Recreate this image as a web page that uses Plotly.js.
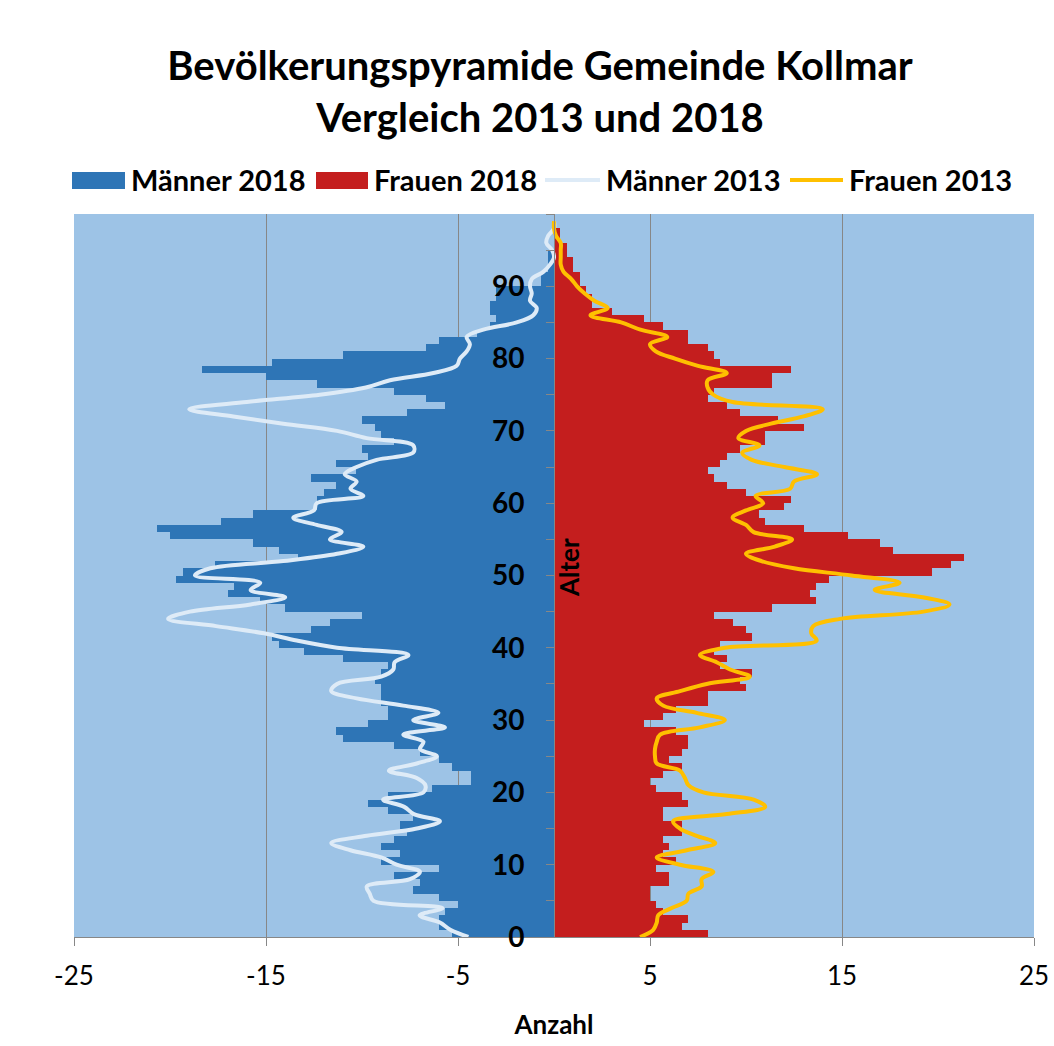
<!DOCTYPE html>
<html>
<head>
<meta charset="utf-8">
<script src="https://cdn.plot.ly/plotly-3.0.1.min.js"></script>
<style>html,body{margin:0;padding:0;background:#fff;}#chart{width:1054px;height:1046px;}</style>
</head>
<body>
<div id="chart"></div>
<script>
// Ages 0..99
const ages = Array.from({length: 100}, (_, i) => i);

const maenner2018 = [
 -5.33,-6.0,-6.0,-5.67,-5.0,-6.0,-7.33,-7.0,-8.33,-6.0,
 -9.0,-8.0,-9.0,-8.33,-7.67,-8.0,-7.33,-8.67,-9.67,-8.67,
 -6.33,-4.33,-4.33,-5.33,-6.0,-7.0,-8.33,-11.0,-11.33,-9.67,
 -8.67,-8.67,-9.0,-9.0,-9.0,-9.33,-9.0,-8.67,-11.0,-13.0,
 -14.33,-14.67,-12.67,-11.67,-10.0,-14.0,-15.33,-17.0,-16.67,-19.67,
 -19.33,-17.67,-13.33,-14.33,-15.67,-20.0,-20.67,-17.33,-15.67,-12.33,
 -12.33,-12.0,-11.33,-12.67,-10.33,-11.33,-9.67,-10.0,-8.33,-9.0,
 -9.33,-10.0,-7.67,-5.67,-6.67,-8.33,-12.33,-15.0,-18.33,-14.67,
 -11.0,-6.67,-6.0,-4.0,-3.33,-3.0,-3.33,-3.33,-3.0,-3.0,
 -0.67,-0.67,-0.33,-0.33,-0.33,0,0,0,0,0
];

const frauen2018 = [
 8.0,6.67,7.0,5.67,5.33,5.0,5.0,6.0,6.0,5.33,
 6.33,5.67,6.0,5.67,6.67,6.67,5.67,5.67,7.0,6.67,
 5.33,5.0,5.67,6.67,6.0,6.67,7.0,7.0,6.33,4.67,
 5.67,6.33,8.0,8.0,10.0,9.67,10.33,8.67,9.0,8.33,
 8.67,10.33,10.0,9.33,8.33,11.33,13.67,13.33,13.67,14.33,
 19.67,20.67,21.33,17.67,17.0,15.33,13.0,11.0,10.67,12.0,
 12.33,10.0,9.0,8.33,8.0,8.67,9.0,9.67,11.0,11.0,
 13.0,11.67,9.67,9.0,8.0,8.33,11.33,11.33,12.33,8.67,
 8.33,8.0,7.0,7.0,5.67,4.67,3.0,2.0,2.0,1.67,
 1.33,1.33,1.0,1.0,0.67,0.67,0.33,0.33,0,0
];

const maenner2013 = [
 -4.46,-5.4,-5.94,-7.0,-5.8,-9.4,-9.6,-9.75,-7.5,-6.98,
 -8.2,-9.0,-10.6,-11.6,-9.75,-7.15,-5.94,-7.3,-7.8,-8.9,
 -6.8,-6.7,-7.15,-8.6,-7.15,-6.1,-6.98,-6.8,-7.85,-5.68,
 -7.33,-6.02,-7.85,-10.28,-11.6,-11.3,-9.0,-8.37,-8.3,-7.58,
 -11.3,-13.4,-15.1,-17.6,-20.1,-18.96,-15.8,-14.0,-15.8,-15.3,
 -18.7,-17.9,-14.1,-11.3,-9.93,-11.67,-11.06,-12.36,-13.58,-12.5,
 -12.36,-9.93,-10.6,-10.28,-10.9,-10.28,-9.24,-7.33,-7.33,-9.76,
 -11.3,-14.1,-16.7,-19.0,-16.0,-12.2,-9.8,-8.54,-6.28,-5.07,
 -4.9,-4.55,-4.38,-4.55,-3.68,-1.94,-1.08,-0.9,-1.25,-1.16,
 -1.25,-1.16,-0.56,-0.21,0,-0.1,-0.4,-0.3,0,0
];

const frauen2013 = [
 4.48,5.17,5.35,5.43,6.13,6.91,7.0,7.69,7.69,8.3,
 6.56,5.35,6.91,8.4,7.43,6.56,6.2,9.0,11.0,10.4,
 7.78,7.0,6.82,6.56,5.35,5.26,5.26,5.35,5.53,7.6,
 8.9,7.43,5.69,5.35,6.56,7.95,10.2,9.17,8.47,7.6,
 8.9,13.68,13.4,13.5,14.9,19.24,20.6,19.2,16.7,18.0,
 15.5,12.5,10.8,10.0,11.5,12.4,10.4,10.0,9.3,10.0,
 10.9,10.5,12.3,12.5,13.7,12.0,10.3,9.8,10.7,9.6,
 10.0,11.3,13.0,14.0,9.3,8.3,8.0,8.0,9.0,7.5,
 6.3,5.3,5.0,5.9,4.5,3.5,1.9,2.8,2.1,1.6,
 1.2,0.9,0.5,0.35,0.35,0.35,0.35,0.1,0,0
];

const xTicks = [-25, -15, -5, 5, 15, 25];
const yTickVals = [0,10,20,30,40,50,60,70,80,90,100];
const yTickText = ['0','10','20','30','40','50','60','70','80','90',''];
const yMinorTicks = [5,15,25,35,45,55,65,75,85,95];

const seriesNames = ['Männer 2018', 'Frauen 2018', 'Männer 2013', 'Frauen 2013'];
const colors = ['#2E75B6', '#C41E1E', '#DEEBF7', '#FFC000'];

const FONT = 'Lato, Carlito, Calibri, "Open Sans", sans-serif';
const barY = ages.map(a => a + 0.5);

const traces = [
  {type:'bar', orientation:'h', name:seriesNames[0], x:maenner2018, y:barY, width:1,
   marker:{color:colors[0], line:{width:0}}, showlegend:false},
  {type:'bar', orientation:'h', name:seriesNames[1], x:frauen2018, y:barY, width:1,
   marker:{color:colors[1], line:{width:0}}, showlegend:false},
  {type:'scatter', mode:'lines', name:seriesNames[2], x:maenner2013, y:ages,
   line:{color:colors[2], width:4, shape:'spline', smoothing:1}, showlegend:false},
  {type:'scatter', mode:'lines', name:seriesNames[3], x:frauen2013, y:ages,
   line:{color:colors[3], width:4, shape:'spline', smoothing:1}, showlegend:false}
];

// plot area in pixels: left 74, right 1034, top 214, bottom 937
const L = 74, R = 1034, T = 214, B = 937;
const px = v => (v - L) / (R - L);
const py = v => (B - v) / (B - T);

// manual legend (swatch geometry in pixels)
const legendItems = [
  {kind:'rect', x0:72, x1:125, tx:129},
  {kind:'rect', x0:316, x1:368, tx:372},
  {kind:'line', x0:545, x1:600, tx:604},
  {kind:'line', x0:790, x1:843, tx:847}
];
const shapes = [];
const annotations = [];
legendItems.forEach((it, i) => {
  if (it.kind === 'rect') {
    shapes.push({type:'rect', xref:'paper', yref:'paper', x0:px(it.x0), x1:px(it.x1),
      y0:py(189), y1:py(172), fillcolor:colors[i], line:{width:0}});
  } else {
    shapes.push({type:'line', xref:'paper', yref:'paper', x0:px(it.x0), x1:px(it.x1),
      y0:py(180), y1:py(180), line:{color:colors[i], width:4}});
  }
  annotations.push({xref:'paper', yref:'paper', x:px(it.tx), y:py(180), xanchor:'left', yanchor:'middle',
    text:seriesNames[i], showarrow:false, font:{family:FONT, size:29, color:'#000', weight:'bold'}});
});
annotations.push({xref:'paper', yref:'paper', x:px(569), y:py(568), xanchor:'center', yanchor:'middle',
  text:'Alter', textangle:-90, showarrow:false, font:{family:FONT, size:26, color:'#000', weight:'bold'}});

const layout = {
  width:1054, height:1046,
  margin:{l:L, r:1054-R, t:T, b:1046-B, pad:0},
  paper_bgcolor:'#ffffff', plot_bgcolor:'#9DC3E6',
  font:{family:FONT, color:'#000'},
  title:{text:'Bevölkerungspyramide Gemeinde Kollmar<br>Vergleich 2013 und 2018',
    font:{family:FONT, size:40, color:'#000', weight:'bold'},
    xref:'container', x:540/1054, xanchor:'center', yref:'container', y:1-80/1046, yanchor:'middle'},
  barmode:'overlay', bargap:0,
  showlegend:false,
  xaxis:{range:[-25,25], tickvals:xTicks, ticktext:xTicks.map(String), showgrid:true, gridcolor:'#878787', gridwidth:1,
    zeroline:false, showline:true, linecolor:'#878787', linewidth:1, ticks:'outside', ticklen:8, tickcolor:'#878787',
    tickfont:{family:FONT, size:26, color:'#000'}, ticklabelstandoff:8, fixedrange:true,
    title:{text:'Anzahl', font:{family:FONT, size:26, color:'#000', weight:'bold'}, standoff:25}},
  yaxis:{range:[0,100], anchor:'free', position:0.5, side:'left', tickvals:yTickVals, ticktext:yTickText,
    showgrid:false, zeroline:false, showline:true, linecolor:'#878787', linewidth:1,
    ticks:'outside', ticklen:8, tickcolor:'#878787', ticklabelstandoff:16,
    minor:{tickvals:yMinorTicks, ticks:'outside', ticklen:8, tickcolor:'#878787', showgrid:false},
    tickfont:{family:FONT, size:28, color:'#000', weight:'bold'}, fixedrange:true},
  shapes:shapes,
  annotations:annotations
};

Plotly.newPlot('chart', traces, layout, {displayModeBar:false, staticPlot:true});
</script>
</body>
</html>
